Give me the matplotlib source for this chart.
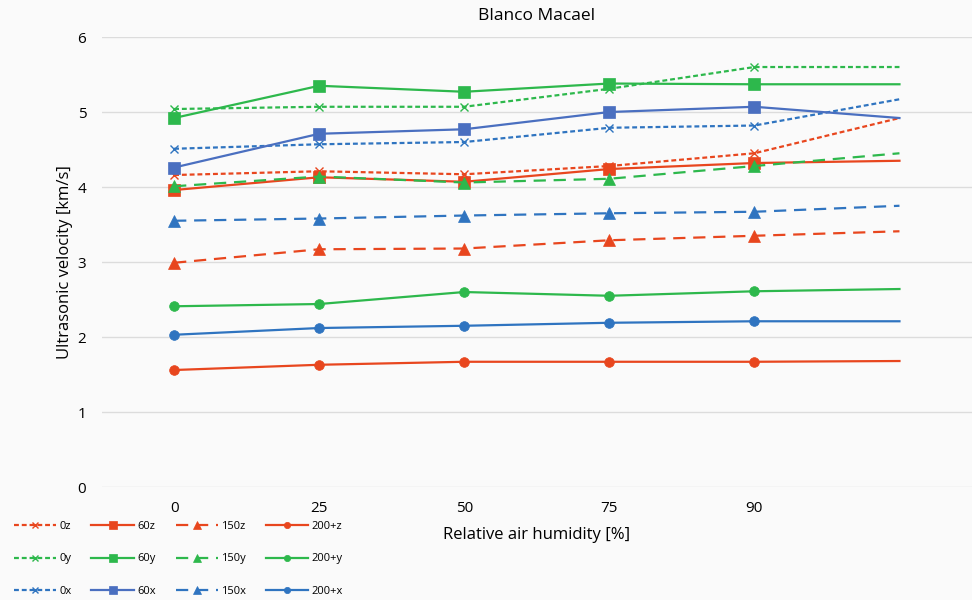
import matplotlib.pyplot as plt

plt.rcParams['font.family'] = ['Open Sans', 'DejaVu Sans']

# humidity categories (last slot has no label, lines run on to it)
humidity = ['0', '25', '50', '75', '90', '']

# ultrasonic velocity [km/s]
v_0z = [4.16, 4.21, 4.17, 4.28, 4.45, 4.92]
v_0y = [5.04, 5.07, 5.07, 5.31, 5.60, 5.60]
v_0x = [4.51, 4.57, 4.60, 4.79, 4.82, 5.17]
v_60z = [3.96, 4.13, 4.07, 4.24, 4.32, 4.35]
v_60y = [4.92, 5.35, 5.27, 5.38, 5.37, 5.37]
v_60x = [4.26, 4.71, 4.77, 5.00, 5.07, 4.92]
v_150z = [2.99, 3.17, 3.18, 3.29, 3.35, 3.41]
v_150y = [4.01, 4.14, 4.06, 4.11, 4.28, 4.45]
v_150x = [3.55, 3.58, 3.62, 3.65, 3.67, 3.75]
v_200z = [1.56, 1.63, 1.67, 1.67, 1.67, 1.68]
v_200y = [2.41, 2.44, 2.60, 2.55, 2.61, 2.64]
v_200x = [2.03, 2.12, 2.15, 2.19, 2.21, 2.21]

red = '#E8461E'
green = '#2DB84C'
blue = '#2F74C0'
blue2 = '#4A6FC0'

dotted = (0, (2.2, 1.3))
longdash = (0, (5.5, 3.5))

series = [
    ('0z', v_0z, red, dotted, 'x', 6),
    ('0y', v_0y, green, dotted, 'x', 6),
    ('0x', v_0x, blue, dotted, 'x', 6),
    ('60z', v_60z, red, '-', 's', 8),
    ('60y', v_60y, green, '-', 's', 8),
    ('60x', v_60x, blue2, '-', 's', 8),
    ('150z', v_150z, red, longdash, '^', 8),
    ('150y', v_150y, green, longdash, '^', 8),
    ('150x', v_150x, blue, longdash, '^', 8),
    ('200+z', v_200z, red, '-', 'o', 7),
    ('200+y', v_200y, green, '-', 'o', 7),
    ('200+x', v_200x, blue, '-', 'o', 7),
]

fig = plt.figure(figsize=(9.72, 6), dpi=100, facecolor='#FAFAFA')
ax = fig.add_axes([0.1045, 0.1883, 0.8955, 0.75])
ax.set_facecolor('#FAFAFA')

x = list(range(len(humidity)))
for name, vals, col, ls, mk, ms in series:
    ax.plot(x, vals, color=col, linestyle=ls, linewidth=1.6, marker=mk,
            markersize=ms, markevery=[0, 1, 2, 3, 4], label=name,
            markeredgewidth=1.0 if mk == 'x' else 0.5)

ax.set_xlim(-0.5, len(humidity) - 0.5)
ax.set_ylim(0, 6)
ax.set_xticks(x)
ax.set_xticklabels(humidity, fontsize=11)
ax.set_yticks(range(7))
ax.tick_params(axis='y', labelsize=11, length=0, pad=11)
ax.tick_params(axis='x', length=0, pad=10)
ax.grid(axis='y', color='#DCDCDC', linewidth=1)
ax.set_axisbelow(True)
for s in ax.spines.values():
    s.set_visible(False)

ax.set_title('Blanco Macael', fontsize=12.5, pad=12)
ax.set_ylabel('Ultrasonic velocity [km/s]', fontsize=12, labelpad=3)
fig.text(0.552, 0.108, 'Relative air humidity [%]', fontsize=12, ha='center', va='center')

fig.legend(loc='upper left', bbox_to_anchor=(0.014, 0.132), ncol=4, frameon=False,
           fontsize=8, handlelength=3.8, handletextpad=0.3, columnspacing=1.8,
           labelspacing=1.95, borderpad=0, borderaxespad=0, markerscale=0.65)

fig.savefig('out.png', dpi=100, facecolor=fig.get_facecolor())
